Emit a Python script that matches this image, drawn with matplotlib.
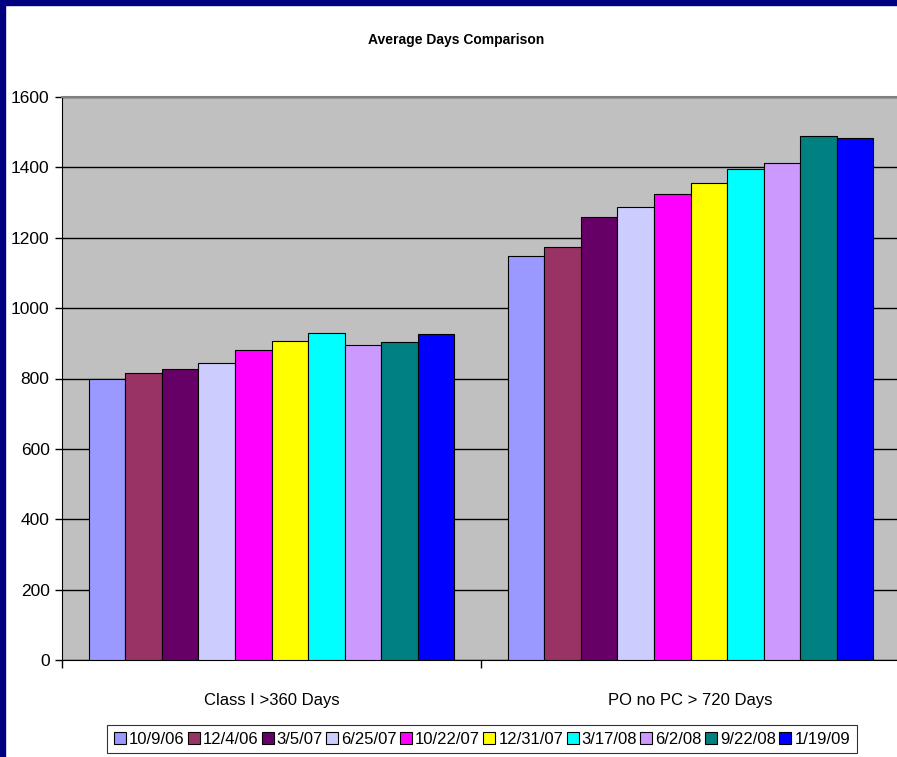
import matplotlib
matplotlib.use("Agg")
import matplotlib.pyplot as plt
from matplotlib import font_manager
from matplotlib.patches import Rectangle
from matplotlib.lines import Line2D
import numpy as np

categories = ["Class I >360 Days", "PO no PC > 720 Days"]
series_names = ["10/9/06", "12/4/06", "3/5/07", "6/25/07", "10/22/07",
                "12/31/07", "3/17/08", "6/2/08", "9/22/08", "1/19/09"]
class_i = [800, 815, 826, 844, 880, 907, 929, 895, 903, 926]
po_no_pc = [1149, 1174, 1258, 1288, 1324, 1356, 1394, 1413, 1489, 1484]
colors = ["#9999FF", "#993366", "#660066", "#CCCCFF", "#FF00FF",
          "#FFFF00", "#00FFFF", "#CC99FF", "#008080", "#0000FF"]
yticks = [0, 200, 400, 600, 800, 1000, 1200, 1400, 1600]

names = {f.name for f in font_manager.fontManager.ttflist}
fam = "Liberation Sans Narrow" if "Liberation Sans Narrow" in names else "Liberation Sans"
plt.rcParams['font.family'] = [fam, 'DejaVu Sans']

W, H = 897, 757
fig = plt.figure(figsize=(W / 100, H / 100), dpi=100)
fig.patch.set_facecolor("white")

# navy frame (left/top visible)
fig.add_artist(Rectangle((0, 0), 5 / W, 1, transform=fig.transFigure, color="#000080", zorder=10))
fig.add_artist(Rectangle((0, 1 - 5 / H), 1, 5 / H, transform=fig.transFigure, color="#000080", zorder=10))

left, right, top, bottom = 62, 900, 97, 660
ax = fig.add_axes([left / W, (H - bottom) / H, (right - left) / W, (bottom - top) / H])
ax.set_facecolor("#C0C0C0")

n = len(series_names)
bw = 0.0873
x = np.arange(len(categories))
for i in range(n):
    vals = [class_i[i], po_no_pc[i]]
    ax.bar(x + (i - (n - 1) / 2) * bw, vals, width=bw, color=colors[i],
           edgecolor="black", linewidth=0.8, zorder=3, label=series_names[i])

ax.set_xlim(-0.5, 1.5)
ax.set_ylim(0, 1600)
ax.set_yticks(yticks)
ax.set_yticklabels([str(v) for v in yticks], fontsize=12.5)
ax.yaxis.grid(True, color="black", linewidth=1.0, zorder=1)
ax.set_axisbelow(True)
ax.tick_params(axis="y", direction="out", length=5, width=1, pad=4)

ax.set_xticks([-0.5, 0.5, 1.5])
ax.set_xticklabels([])
ax.tick_params(axis="x", which="major", direction="out", length=6, width=1)
ax.set_xticks(x, minor=True)
ax.set_xticklabels(categories, minor=True, fontsize=12)
ax.tick_params(axis="x", which="minor", length=0, pad=24)

ax.spines["right"].set_visible(False)
ax.spines["top"].set_color("#808080")
ax.spines["top"].set_linewidth(1.5)
ax.spines["left"].set_color("black")
ax.spines["bottom"].set_color("black")

fig.text(456 / W, 1 - 40 / H, "Average Days Comparison", ha="center", va="center",
         fontsize=10, fontweight="bold")

handles = [Line2D([], [], marker="s", linestyle="none", markersize=8,
                  markerfacecolor=c, markeredgecolor="black", markeredgewidth=0.8)
           for c in colors]
leg = fig.legend(handles, series_names, loc="center", ncol=n,
                 bbox_to_anchor=(482 / W, 1 - 739 / H), fontsize=12,
                 frameon=True, fancybox=False, edgecolor="black",
                 handlelength=0.7, handletextpad=0.2, columnspacing=0.2,
                 borderpad=0.4, borderaxespad=0)
leg.get_frame().set_linewidth(0.8)

fig.savefig("out.png", dpi=100, facecolor="white")
